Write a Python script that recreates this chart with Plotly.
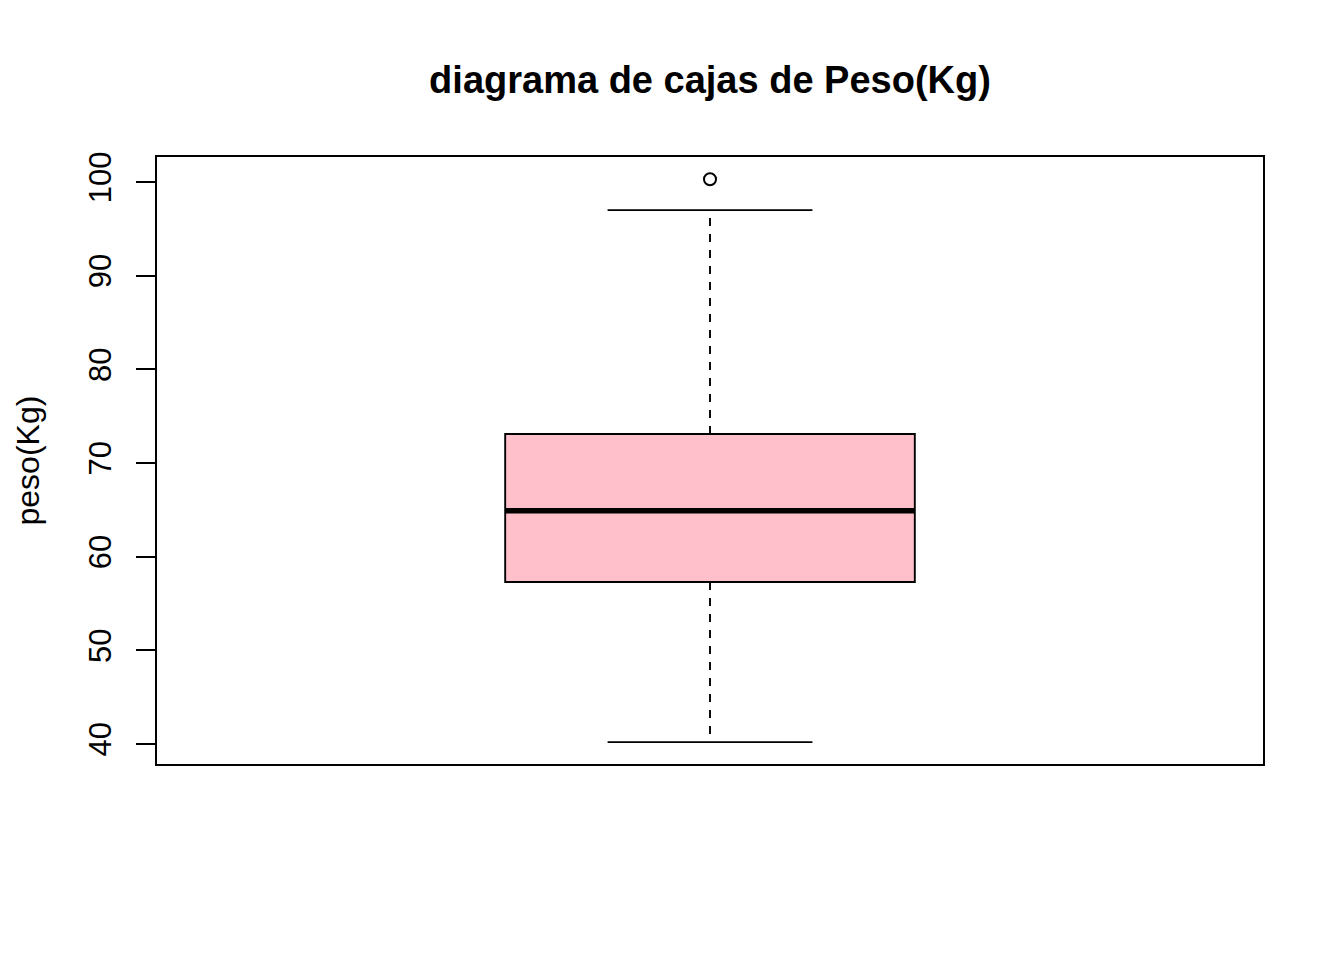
import plotly.graph_objects as go

# Data
category = ["Peso(Kg)"]
q1 = [57.3]
median = [64.9]
q3 = [73.1]
lower_whisker = [40.2]
upper_whisker = [97.0]
outliers = [100.3]
y_ticks = [40, 50, 60, 70, 80, 90, 100]

# Styling / geometry
pos = 1.0          # box position on the numeric x axis
box_w = 0.4        # box width in x units
cap_w = 0.2        # whisker cap width in x units
font = "Liberation Sans, Arial, sans-serif"
lw = 1.9

fig = go.Figure()

# Box body (whiskers handled separately so they can be dashed)
fig.add_trace(go.Box(
    x=[pos], q1=q1, median=median, q3=q3,
    lowerfence=q1, upperfence=q3,
    width=box_w, fillcolor="#FFC0CB",
    line=dict(color="black", width=lw),
    boxpoints=False, showlegend=False, hoverinfo="skip",
    name=category[0],
))

# Dashed whiskers
for a, b in ((q3[0], upper_whisker[0]), (q1[0], lower_whisker[0])):
    fig.add_trace(go.Scatter(
        x=[pos, pos], y=[a, b], mode="lines",
        line=dict(color="black", width=lw, dash="8px,8px"),
        showlegend=False, hoverinfo="skip",
    ))

# Whisker caps
for v in (upper_whisker[0], lower_whisker[0]):
    fig.add_trace(go.Scatter(
        x=[pos - cap_w / 2, pos + cap_w / 2], y=[v, v], mode="lines",
        line=dict(color="black", width=lw),
        showlegend=False, hoverinfo="skip",
    ))

# Thick median line
fig.add_trace(go.Scatter(
    x=[pos - box_w / 2, pos + box_w / 2], y=[median[0], median[0]], mode="lines",
    line=dict(color="black", width=5.5),
    showlegend=False, hoverinfo="skip",
))

# Outliers
fig.add_trace(go.Scatter(
    x=[pos] * len(outliers), y=outliers, mode="markers",
    marker=dict(symbol="circle-open", size=12, color="black", line=dict(width=2)),
    showlegend=False, hoverinfo="skip",
))

fig.update_layout(
    width=1344, height=960,
    margin=dict(l=157, r=81, t=157, b=196),
    paper_bgcolor="white", plot_bgcolor="white",
    font=dict(family=font, color="black"),
    title=dict(text="<b>diagrama de cajas de Peso(Kg)</b>",
               font=dict(size=38, family=font, color="black"),
               x=0.5, xref="paper", xanchor="center",
               y=1 - 80 / 960, yref="container", yanchor="middle"),
    xaxis=dict(range=[0.46, 1.54], showgrid=False, zeroline=False,
               showticklabels=False, ticks="",
               showline=True, mirror=True, linecolor="black", linewidth=lw),
    yaxis=dict(range=[37.86, 102.67], showgrid=False, zeroline=False,
               tickmode="array", tickvals=y_ticks, ticktext=[str(t) for t in y_ticks],
               ticks="outside", ticklen=19, tickwidth=lw, tickcolor="black",
               tickangle=-90, tickfont=dict(size=31, family=font, color="black"),
               ticklabelstandoff=13,
               showline=True, mirror=True, linecolor="black", linewidth=lw),
    annotations=[dict(text="peso(Kg)", textangle=-90, showarrow=False,
                      xref="paper", yref="paper",
                      x=(27 - 157) / 1106, y=0.5,
                      xanchor="center", yanchor="middle",
                      font=dict(size=32, family=font, color="black"))],
)

fig.write_html("out.html")
